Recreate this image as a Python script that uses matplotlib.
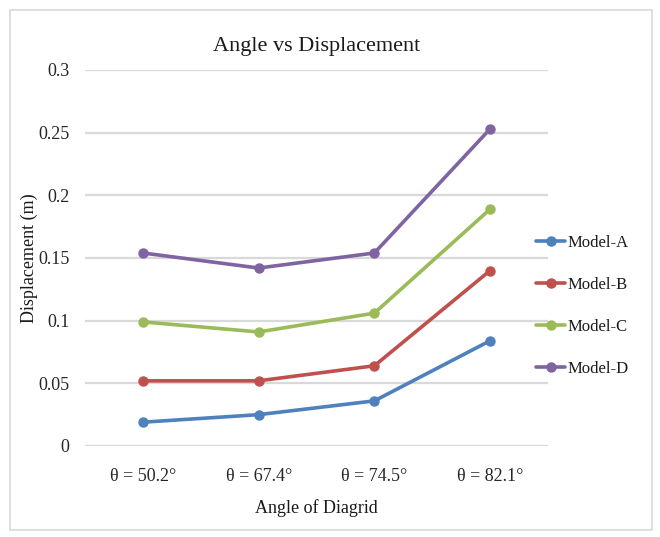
import matplotlib
matplotlib.use("Agg")
import matplotlib.pyplot as plt
from matplotlib.patches import Rectangle

categories = ["θ = 50.2°", "θ = 67.4°", "θ = 74.5°", "θ = 82.1°"]
model_a = [0.019, 0.025, 0.036, 0.084]
model_b = [0.052, 0.052, 0.064, 0.140]
model_c = [0.099, 0.091, 0.106, 0.189]
model_d = [0.154, 0.142, 0.154, 0.253]
series_names = ["Model-A", "Model-B", "Model-C", "Model-D"]
colors = ["#4F81BD", "#C0504D", "#9BBB59", "#8064A2"]
y_ticks = [0, 0.05, 0.1, 0.15, 0.2, 0.25, 0.3]
y_tick_labels = ["0", "0.05", "0.1", "0.15", "0.2", "0.25", "0.3"]

plt.rcParams['font.family'] = ['Liberation Serif', 'DejaVu Serif']

fig = plt.figure(figsize=(6.6, 5.37), dpi=100)
ax = fig.add_axes([85/660, 1-446/537, (548-85)/660, (446-70)/537])

x = list(range(len(categories)))
for vals, name, c in zip([model_a, model_b, model_c, model_d], series_names, colors):
    ax.plot(x, vals, color=c, lw=2.6, marker='o', ms=6.5, label=name,
            solid_capstyle='round', solid_joinstyle='round')

ax.set_xlim(-0.5, len(categories) - 0.5)
ax.set_ylim(0, 0.3)
ax.set_yticks(y_ticks)
ax.set_yticklabels(y_tick_labels)
ax.set_xticks(x)
ax.set_xticklabels(categories)
ax.tick_params(axis='both', length=0, labelsize=13, colors='#262626')
ax.tick_params(axis='y', pad=11)
ax.tick_params(axis='x', pad=16)
ax.grid(axis='y', color='#D9D9D9', lw=1.6)
ax.set_axisbelow(True)
for s in ax.spines.values():
    s.set_visible(False)

ax.set_title("Angle vs Displacement", fontsize=16, color='#1a1a1a', pad=14)
ax.set_xlabel("Angle of Diagrid", fontsize=13, color='#1a1a1a', labelpad=10)
ax.set_ylabel("Displacement (m)", fontsize=13, color='#1a1a1a', labelpad=0)

leg = ax.legend(loc='center left', bbox_to_anchor=(0.975, 0.373), frameon=False,
                fontsize=12, handlelength=1.7, handletextpad=0.15, labelspacing=1.55,
                borderaxespad=0.0, borderpad=0.0)
for t in leg.get_texts():
    t.set_color('#1a1a1a')

fig.patches.append(Rectangle((10/660, 1-530/537), (652-10)/660, (530-10)/537,
                             transform=fig.transFigure, fill=False,
                             edgecolor='#D9D9D9', lw=1.2))

fig.savefig("out.png", dpi=100)
